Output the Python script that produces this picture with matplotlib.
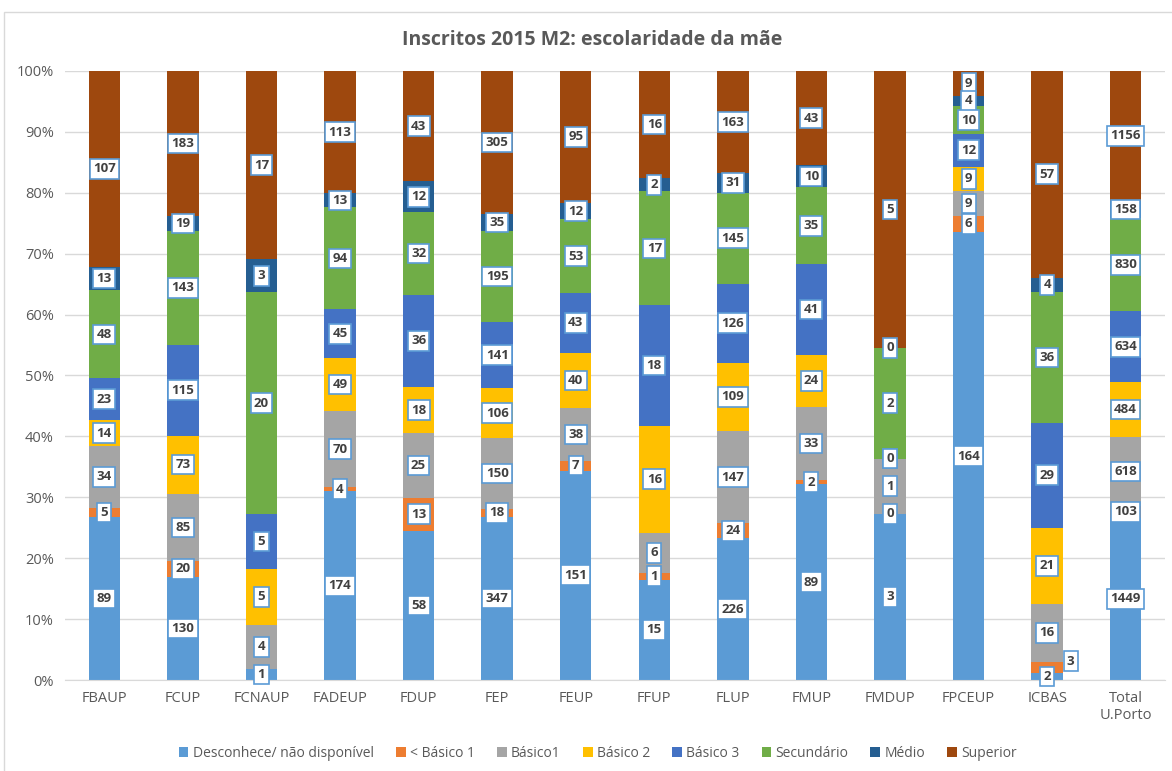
import numpy as np
import matplotlib.pyplot as plt
from matplotlib.patches import Rectangle

plt.rcParams['font.family'] = ['Open Sans', 'DejaVu Sans']

# data: counts per faculty
categories = ['FBAUP', 'FCUP', 'FCNAUP', 'FADEUP', 'FDUP', 'FEP', 'FEUP', 'FFUP',
              'FLUP', 'FMUP', 'FMDUP', 'FPCEUP', 'ICBAS', 'Total\nU.Porto']
series_names = ['Desconhece/ não disponível', '< Básico 1', 'Básico1', 'Básico 2',
                'Básico 3', 'Secundário', 'Médio', 'Superior']
desconhece = [89, 130, 1, 174, 58, 347, 151, 15, 226, 89, 3, 164, 2, 1449]
menos_basico1 = [5, 20, 0, 4, 13, 18, 7, 1, 24, 2, 0, 6, 3, 103]
basico1 = [34, 85, 4, 70, 25, 150, 38, 6, 147, 33, 1, 9, 16, 618]
basico2 = [14, 73, 5, 49, 18, 106, 40, 16, 109, 24, 0, 9, 21, 484]
basico3 = [23, 115, 5, 45, 36, 141, 43, 18, 126, 41, 0, 12, 29, 634]
secundario = [48, 143, 20, 94, 32, 195, 53, 17, 145, 35, 2, 10, 36, 830]
medio = [13, 19, 3, 13, 12, 35, 12, 2, 31, 10, 0, 4, 4, 158]
superior = [107, 183, 17, 113, 43, 305, 95, 16, 163, 43, 5, 9, 57, 1156]

colors = ['#5B9BD5', '#ED7D31', '#A5A5A5', '#FFC000', '#4472C4', '#70AD47', '#255E91', '#9E480E']

data = np.array([desconhece, menos_basico1, basico1, basico2, basico3,
                 secundario, medio, superior], dtype=float)
totals = data.sum(axis=0)
pct = data / totals * 100

fig = plt.figure(figsize=(11.72, 7.71), dpi=100)
ax = fig.add_axes([0.0555, 0.118, 0.9385, 0.79])

# chart frame
fig.patches.append(Rectangle((0.003, -0.01), 1.2, 0.995, transform=fig.transFigure,
                             fill=False, edgecolor='#D9D9D9', lw=1))

x = np.arange(len(categories))
bottom = np.zeros(len(categories))
label_pos = []
for i, name in enumerate(series_names):
    ax.bar(x, pct[i], 0.4, bottom=bottom, color=colors[i], label=name, zorder=2)
    label_pos.append(bottom + pct[i] / 2)
    bottom = bottom + pct[i]

# data labels, drawn last-series first so lower labels sit on top
for j in range(len(categories)):
    others = [label_pos[k][j] for k in range(8) if data[k][j] > 0]
    prev = None
    offsets = {}
    for i in range(8):
        if data[i][j] == 0:
            continue
        if prev is not None and label_pos[i][j] - prev < 2:
            offsets[i] = (0.3, 1.0)
        prev = label_pos[i][j]
    for i in reversed(range(8)):
        v = data[i][j]
        yy = label_pos[i][j]
        if v == 0 and any(abs(o - yy) < 3 for o in others):
            continue
        dx, dy = offsets.get(i, (0, 0))
        ax.text(x[j] + dx, yy + dy, str(int(v)), ha='center', va='center', fontsize=9.5,
                fontweight='bold', color='#404040', zorder=5,
                bbox=dict(boxstyle='square,pad=0.25', fc='white', ec='#5B9BD5', lw=1.2))

ax.set_xlim(-0.5, len(categories) - 0.5)
ax.set_ylim(0, 100)
ax.set_yticks(np.arange(0, 101, 10))
ax.set_yticklabels([f'{t}%' for t in range(0, 101, 10)])
ax.set_xticks(x)
ax.set_xticklabels(categories)
ax.tick_params(axis='both', length=0, labelsize=10.5, colors='#595959', pad=8)
ax.grid(axis='y', color='#D9D9D9', lw=1, zorder=0)
for s in ['top', 'right', 'left']:
    ax.spines[s].set_visible(False)
ax.spines['bottom'].set_color('#D9D9D9')

fig.text(0.505, 0.948, 'Inscritos 2015 M2: escolaridade da mãe', ha='center', va='center',
         fontsize=14, fontweight='bold', color='#595959')

fig.legend(loc='center', bbox_to_anchor=(0.51, 0.023), ncol=8, frameon=False,
           fontsize=10, handlelength=0.7, handleheight=0.7, handletextpad=0.3,
           columnspacing=1.6, labelcolor='#595959')

fig.savefig('out.png', dpi=100)
